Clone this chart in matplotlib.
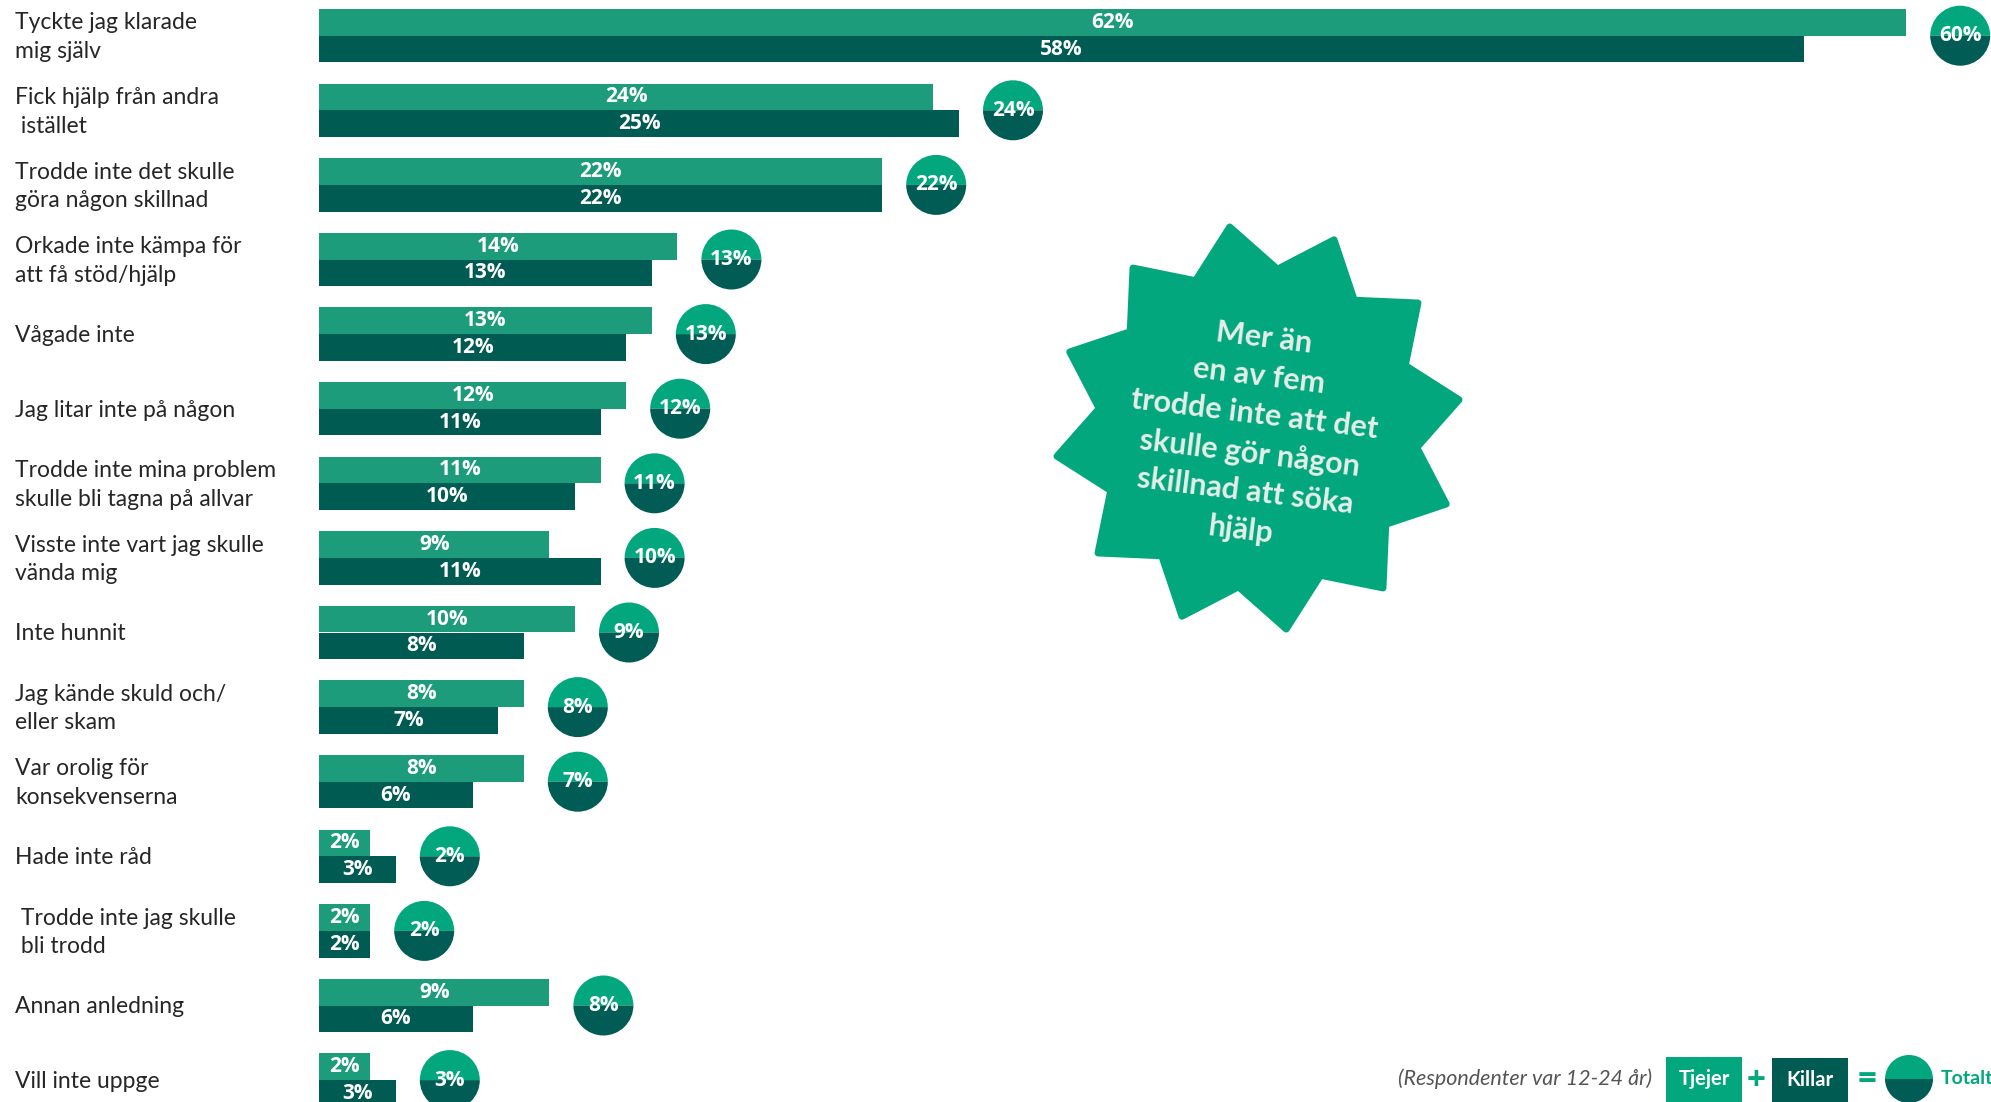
import numpy as np
import matplotlib
matplotlib.use("Agg")
import matplotlib.pyplot as plt
from matplotlib import transforms
from matplotlib.patches import Wedge, Rectangle, Polygon

# ---- data -------------------------------------------------------------
categories = [
    "Tyckte jag klarade\nmig själv",
    "Fick hjälp från andra\n istället",
    "Trodde inte det skulle\ngöra någon skillnad",
    "Orkade inte kämpa för\natt få stöd/hjälp",
    "Vågade inte",
    "Jag litar inte på någon",
    "Trodde inte mina problem\nskulle bli tagna på allvar",
    "Visste inte vart jag skulle\nvända mig",
    "Inte hunnit",
    "Jag kände skuld och/\neller skam",
    "Var orolig för\nkonsekvenserna",
    "Hade inte råd",
    " Trodde inte jag skulle\n bli trodd",
    "Annan anledning",
    "Vill inte uppge",
]
tjejer = [62, 24, 22, 14, 13, 12, 11, 9, 10, 8, 8, 2, 2, 9, 2]
killar = [58, 25, 22, 13, 12, 11, 10, 11, 8, 7, 6, 3, 2, 6, 3]
totalt = [60, 24, 22, 13, 13, 12, 11, 10, 9, 8, 7, 2, 2, 8, 3]

star_text = ("Mer än\nen av fem\ntrodde inte att det\n"
             "skulle gör någon\nskillnad att söka\nhjälp")
note_text = "(Respondenter var 12-24 år)"

# ---- style ------------------------------------------------------------
C_TJ = "#1d9c7b"       # girls bars
C_KI = "#005b53"       # boys bars
C_TOP = "#03a77e"      # bright green (circles, star, legend)
C_BOT = "#005c55"
LABEL_FONT = "Lato"
NUM_FONT = "Open Sans"

W, H = 1991, 1102
DPI = 100
fig = plt.figure(figsize=(W / DPI, H / DPI), dpi=DPI)

x0_px = 319            # left edge of bars
px_per_pct = 25.6
row_px = 74.6
bar_px = 26.7
first_center_px = 9 + bar_px

ax = fig.add_axes([x0_px / W, 0, 1 - x0_px / W, 1])
ax.set_xlim(0, (W - x0_px) / px_per_pct)
top = -first_center_px / row_px
ax.set_ylim(top + H / row_px, top)
ax.axis("off")

y = np.arange(len(categories))
h = bar_px / row_px
ax.barh(y - h / 2, tjejer, height=h, color=C_TJ, linewidth=0)
ax.barh(y + h / 2, killar, height=h, color=C_KI, linewidth=0)

for yi, t, k in zip(y, tjejer, killar):
    ax.text(t / 2, yi - h / 2, f"{t}%", ha="center", va="center",
            color="white", fontsize=15, fontweight="bold", family=NUM_FONT)
    ax.text(k / 2, yi + h / 2, f"{k}%", ha="center", va="center",
            color="white", fontsize=15, fontweight="bold", family=NUM_FONT)

# category labels on the left
lab_tr = transforms.blended_transform_factory(fig.transFigure, ax.transData)
for yi, cat in zip(y, categories):
    ax.text(15 / W, yi + 0.02, cat, transform=lab_tr, ha="left", va="center",
            fontsize=16.5, color="#262626", family=LABEL_FONT, linespacing=1.45)

# total circles, placed right of the longest bar of each row
r_in = 0.30
off_in = 0.54
for yi, t, k, tot in zip(y, tjejer, killar, totalt):
    tr = fig.dpi_scale_trans + transforms.ScaledTranslation(max(t, k), yi, ax.transData)
    ax.add_patch(Wedge((off_in, 0), r_in, 0, 180, transform=tr,
                       color=C_TOP, linewidth=0, clip_on=False))
    ax.add_patch(Wedge((off_in, 0), r_in, 180, 360, transform=tr,
                       color=C_BOT, linewidth=0, clip_on=False))
    ax.text(off_in, 0, f"{tot}%", transform=tr, ha="center", va="center",
            color="white", fontsize=15, fontweight="bold", family=NUM_FONT,
            clip_on=False)

# ---- overlay in pixel units: callout star and legend -------------------
ov = fig.add_axes([0, 0, 1, 1])
ov.set_xlim(0, W)
ov.set_ylim(H, 0)
ov.axis("off")

cx, cy = 1258, 428
r_out, r_inn = 203, 160
pts = []
for i in range(12):
    a_out = np.deg2rad(98 + 30 * i)
    a_in = np.deg2rad(113 + 30 * i)
    pts.append((cx + r_out * np.cos(a_out), cy - r_out * np.sin(a_out)))
    pts.append((cx + r_inn * np.cos(a_in), cy - r_inn * np.sin(a_in)))
ov.add_patch(Polygon(pts, closed=True, facecolor=C_TOP, edgecolor=C_TOP,
                     linewidth=5, joinstyle="round"))
ov.text(1252, 434, star_text, ha="center", va="center", rotation=-7,
        rotation_mode="anchor", multialignment="center", fontsize=22,
        fontweight="bold", color="#e6eee9", family=LABEL_FONT, linespacing=1.45)

# legend row
ly = 1079
ov.text(1652, ly, note_text, ha="right", va="center", fontsize=15.5,
        style="italic", color="#555555", family=LABEL_FONT)
ov.add_patch(Rectangle((1666, 1057), 76, 45, color=C_TOP, linewidth=0))
ov.text(1704, ly, "Tjejer", ha="center", va="center", color="white",
        fontsize=14.5, fontweight="bold", family=LABEL_FONT)
ov.text(1756, ly + 2, "+", ha="center", va="center", color=C_TOP,
        fontsize=24, fontweight="bold", family=NUM_FONT)
ov.add_patch(Rectangle((1772, 1058), 76, 44, color=C_KI, linewidth=0))
ov.text(1810, ly + 1, "Killar", ha="center", va="center", color="white",
        fontsize=14.5, fontweight="bold", family=LABEL_FONT)
ov.text(1867, ly + 1, "=", ha="center", va="center", color=C_TOP,
        fontsize=24, fontweight="bold", family=NUM_FONT)
ov.add_patch(Wedge((1909, ly), 24, 180, 360, color=C_TOP, linewidth=0))
ov.add_patch(Wedge((1909, ly), 24, 0, 180, color=C_BOT, linewidth=0))
ov.text(1941, ly, "Totalt", ha="left", va="center", color=C_TOP,
        fontsize=14, fontweight="bold", family=LABEL_FONT)

fig.savefig("out.png", dpi=DPI)
